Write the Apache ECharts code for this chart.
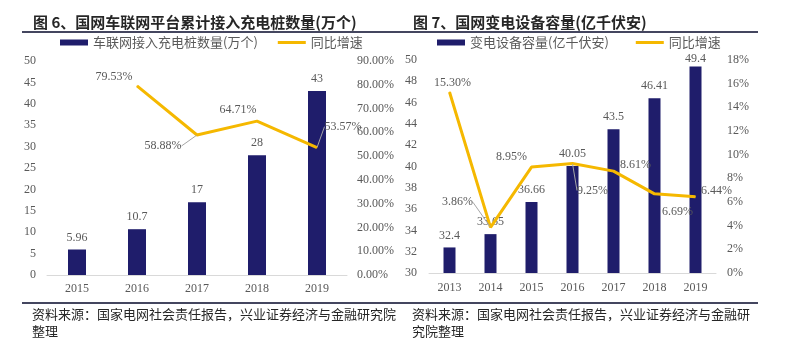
<!DOCTYPE html>
<html><head><meta charset="utf-8">
<script src="https://cdn.jsdelivr.net/npm/echarts@6/dist/echarts.min.js"></script>
<style>html,body{margin:0;padding:0;background:#fff}#c{width:800px;height:347px}</style>
</head><body><div id="c"></div>
<script>
// ---- data ----
const leftTitle = '图 6、国网车联网平台累计接入充电桩数量(万个)';
const rightTitle = '图 7、国网变电设备容量(亿千伏安)';
const leftYears = ['2015', '2016', '2017', '2018', '2019'];
const leftCount = [5.96, 10.7, 17, 28, 43];
const leftGrowth = ['-', 79.53, 58.88, 64.71, 53.57];
const leftBarName = '车联网接入充电桩数量(万个)';
const rightYears = ['2013', '2014', '2015', '2016', '2017', '2018', '2019'];
const rightCapacity = [32.4, 33.65, 36.66, 40.05, 43.5, 46.41, 49.4];
const rightGrowth = [15.30, 3.86, 8.95, 9.25, 8.61, 6.69, 6.44];
const rightBarName = '变电设备容量(亿千伏安)';
const growthName = '同比增速';
const leftSource = '资料来源：国家电网社会责任报告，兴业证券经济与金融研究院\n整理';
const rightSource = '资料来源：国家电网社会责任报告，兴业证券经济与金融研\n究院整理';

// ---- styling (label offsets relative to points, leader flags) ----
const leftLabelOffsets = [[0, 0], [-23, -9], [-34, 11], [-19, -11], [26, -21]];
const leftLeader = [false, false, true, false, true];
const rightLabelOffsets = [[3, -9], [-33, -25], [-20, -10], [20, 27], [22, -6], [23, 18], [21, -6]];
const rightLeader = [false, true, false, true, false, false, false];
const rightBarLabelDist = [6, 6, 6, 6, 6, 6, 2];

const NAVY = '#1f1d6b';
const GOLD = '#f5b800';
const TXT = '#595959';
const SERIF = 'Liberation Serif';
const CJK = 'Noto Sans CJK SC';
const LINE_ICON = 'path://M0,0h0.01v0.01h-0.01z M0,1.6h28v2.8h-28z M0,5.99h0.01v0.01h-0.01z';

function lineData(vals, leader) {
  return vals.map((v, i) => ({
    value: v,
    labelLine: { show: leader[i], lineStyle: { color: '#a6a6a6', width: 1 } }
  }));
}
function barData(vals, dists) {
  return vals.map((v, i) => ({ value: v, label: { distance: dists[i] } }));
}
function layoutFn(offsets) {
  return function (p) {
    const o = offsets[p.dataIndex] || [0, 0];
    return {
      x: p.rect.x + p.rect.width / 2 + o[0],
      y: p.rect.y + p.rect.height / 2 + o[1],
      align: 'center', verticalAlign: 'middle'
    };
  };
}
const axisLbl = { color: TXT, fontFamily: SERIF, fontSize: 12 };

const chart = echarts.init(document.getElementById('c'), null, { renderer: 'canvas' });
chart.setOption({
  animation: false,
  backgroundColor: '#fff',
  title: [
    { text: leftTitle, left: 28, top: 10, textStyle: { fontFamily: CJK, fontSize: 15, fontWeight: 'bold', color: '#262626' } },
    { text: rightTitle, left: 408, top: 10, textStyle: { fontFamily: CJK, fontSize: 15, fontWeight: 'bold', color: '#262626' } }
  ],
  legend: [
    {
      left: 55, top: 31, itemWidth: 28, itemHeight: 6, itemGap: 20,
      textStyle: { color: TXT, fontFamily: CJK, fontSize: 13 },
      data: [{ name: leftBarName, icon: 'rect' }, { name: growthName, icon: LINE_ICON }]
    },
    {
      left: 432, top: 31, itemWidth: 28, itemHeight: 6, itemGap: 27,
      textStyle: { color: TXT, fontFamily: CJK, fontSize: 13 },
      data: [{ name: rightBarName, icon: 'rect' }, { name: growthName + ' ', icon: LINE_ICON }]
    }
  ],
  grid: [
    { left: 47, right: 453, top: 61, bottom: 72 },
    { left: 429, right: 84, top: 60, bottom: 74 }
  ],
  xAxis: [
    { type: 'category', gridIndex: 0, data: leftYears, axisTick: { show: false },
      axisLine: { lineStyle: { color: '#d9d9d9' } }, axisLabel: Object.assign({ margin: 8 }, axisLbl) },
    { type: 'category', gridIndex: 1, data: rightYears, axisTick: { show: false },
      axisLine: { lineStyle: { color: '#d9d9d9' } }, axisLabel: Object.assign({ margin: 9 }, axisLbl) }
  ],
  yAxis: [
    { type: 'value', gridIndex: 0, min: 0, max: 50, interval: 5, splitLine: { show: false },
      axisLine: { show: false }, axisTick: { show: false }, axisLabel: Object.assign({ margin: 11 }, axisLbl) },
    { type: 'value', gridIndex: 0, min: 0, max: 90, interval: 10, position: 'right', splitLine: { show: false },
      axisLine: { show: false }, axisTick: { show: false },
      axisLabel: Object.assign({ margin: 10, formatter: v => v.toFixed(2) + '%' }, axisLbl) },
    { type: 'value', gridIndex: 1, min: 30, max: 50, interval: 2, splitLine: { show: false },
      axisLine: { show: false }, axisTick: { show: false }, axisLabel: Object.assign({ margin: 12 }, axisLbl) },
    { type: 'value', gridIndex: 1, min: 0, max: 18, interval: 2, position: 'right', splitLine: { show: false },
      axisLine: { show: false }, axisTick: { show: false },
      axisLabel: Object.assign({ margin: 11, formatter: v => v + '%' }, axisLbl) }
  ],
  series: [
    { name: leftBarName, type: 'bar', xAxisIndex: 0, yAxisIndex: 0, data: leftCount, barWidth: 18,
      itemStyle: { color: NAVY },
      label: { show: true, position: 'top', distance: 6, color: TXT, fontFamily: SERIF, fontSize: 12 } },
    { name: growthName, type: 'line', xAxisIndex: 0, yAxisIndex: 1, data: lineData(leftGrowth, leftLeader),
      symbol: 'circle', symbolSize: 1, lineStyle: { color: GOLD, width: 3 }, itemStyle: { color: GOLD },
      label: { show: true, position: 'inside', color: TXT, fontFamily: SERIF, fontSize: 12,
        formatter: p => p.value.toFixed(2) + '%' },
      labelLayout: layoutFn(leftLabelOffsets) },
    { name: rightBarName, type: 'bar', xAxisIndex: 1, yAxisIndex: 2, data: barData(rightCapacity, rightBarLabelDist), barWidth: 12,
      itemStyle: { color: NAVY },
      label: { show: true, position: 'top', distance: 6, color: TXT, fontFamily: SERIF, fontSize: 12 } },
    { name: growthName + ' ', type: 'line', xAxisIndex: 1, yAxisIndex: 3, data: lineData(rightGrowth, rightLeader),
      symbol: 'circle', symbolSize: 1, lineStyle: { color: GOLD, width: 3 }, itemStyle: { color: GOLD },
      label: { show: true, position: 'inside', color: TXT, fontFamily: SERIF, fontSize: 12,
        formatter: p => p.value.toFixed(2) + '%' },
      labelLayout: layoutFn(rightLabelOffsets), z: 3 }
  ],
  graphic: [
    { type: 'line', shape: { x1: 22, y1: 32, x2: 758, y2: 32 }, style: { stroke: '#44465f', lineWidth: 2 } },
    { type: 'line', shape: { x1: 22, y1: 303, x2: 758, y2: 303 }, style: { stroke: '#44465f', lineWidth: 2 } },
    { type: 'text', left: 32, top: 306, style: { text: leftSource, font: '13px "Noto Sans CJK SC"', fill: '#262626', lineHeight: 17 } },
    { type: 'text', left: 412, top: 306, style: { text: rightSource, font: '13px "Noto Sans CJK SC"', fill: '#262626', lineHeight: 17 } }
  ]
});
</script>
</body></html>
